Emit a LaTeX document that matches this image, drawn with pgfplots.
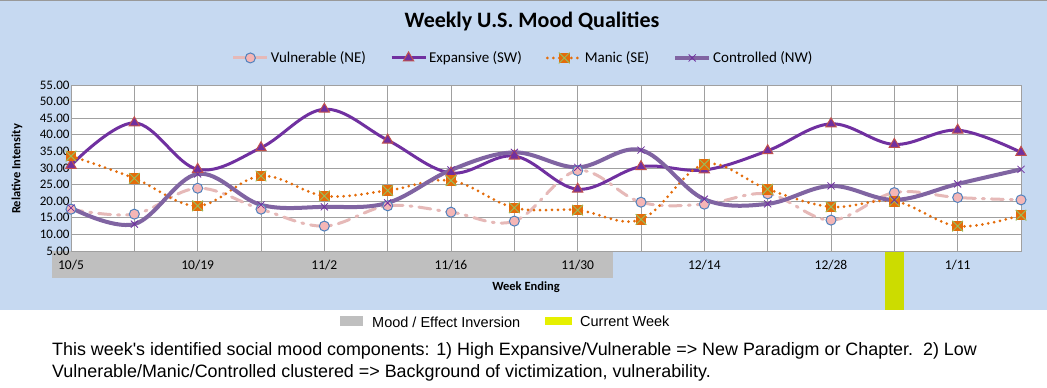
\documentclass[border=0pt]{standalone}
\usepackage{pgfplots}
\pgfplotsset{compat=1.18}
\usepackage{pgfplotstable}
\usepackage{fontspec}
\setmainfont{Carlito}
\newfontfamily\arialf{Liberation Sans}

\definecolor{bgblue}{HTML}{C6D9F1}
\definecolor{vulc}{HTML}{E6B9B8}
\definecolor{vulfill}{HTML}{F4B6B6}
\definecolor{vuledge}{HTML}{4F81BD}
\definecolor{expc}{HTML}{7030A0}
\definecolor{expedge}{HTML}{C0504D}
\definecolor{manc}{HTML}{E46C0A}
\definecolor{manx}{HTML}{9BBB59}
\definecolor{conc}{HTML}{8064A2}
\definecolor{conx}{HTML}{7030A0}
\definecolor{gridc}{HTML}{A0A0A0}
\definecolor{bandgray}{HTML}{BFBFBF}
\definecolor{curyel}{HTML}{CCDC00}
\definecolor{legyel}{HTML}{E6F000}

\pgfdeclareplotmark{sqx}{%
  \pgfpathrectangle{\pgfpoint{-\pgfplotmarksize}{-\pgfplotmarksize}}{\pgfpoint{2\pgfplotmarksize}{2\pgfplotmarksize}}%
  \pgfsetfillcolor{manc}\pgfusepathqfill
  \pgfsetstrokecolor{manx}\pgfsetlinewidth{1pt}%
  \pgfpathmoveto{\pgfpoint{-\pgfplotmarksize}{-\pgfplotmarksize}}%
  \pgfpathlineto{\pgfpoint{\pgfplotmarksize}{\pgfplotmarksize}}%
  \pgfpathmoveto{\pgfpoint{-\pgfplotmarksize}{\pgfplotmarksize}}%
  \pgfpathlineto{\pgfpoint{\pgfplotmarksize}{-\pgfplotmarksize}}%
  \pgfusepathqstroke}

\pgfplotstableread{
x vul exp man con
0 17.6 30.8 33.6 18.0
1 16.1 43.6 26.9 13.1
2 23.9 29.6 18.6 28.2
3 17.6 36.1 27.6 18.9
4 12.5 47.7 21.6 18.3
5 18.6 38.4 23.2 19.5
6 16.7 28.5 26.2 29.4
7 14.0 33.6 18.0 34.7
8 29.2 23.6 17.3 30.2
9 19.7 30.4 14.5 35.4
10 19.1 29.4 31.1 20.6
11 22.2 35.2 23.6 19.2
12 14.3 43.3 18.3 24.6
13 22.6 37.1 20.0 20.4
14 21.1 41.4 12.5 25.2
15 20.4 34.7 15.8 29.6
}\mood

\begin{document}
\begin{tikzpicture}[x=1pt,y=1pt]
\useasboundingbox (0,0) rectangle (1047,388);
\fill[white] (0,0) rectangle (1047,388);
\fill[bgblue] (0,78) rectangle (1047,388);
\draw[gray!80,line width=1pt] (0,387.5) -- (1047,387.5);
% inversion band and current week
\fill[bandgray] (52,110) rectangle (613,137);
\fill[curyel] (885,78) rectangle (904,137.5);

\begin{axis}[
  at={(71pt,137pt)}, anchor=south west,
  scale only axis, width=950pt, height=166pt,
  xmin=0, xmax=15, ymin=5, ymax=55,
  clip=false,
  axis background/.style={fill=white},
  axis line style={gridc},
  grid=major,
  major grid style={gridc, line width=0.8pt},
  major tick length=0pt,
  xtick={0,...,15},
  xticklabels={10/5,,10/19,,11/2,,11/16,,11/30,,12/14,,12/28,,1/11,},
  ytick={5,10,...,55},
  /pgf/number format/assume math mode=true,
  yticklabel style={/pgf/number format/fixed,/pgf/number format/precision=2,/pgf/number format/fixed zerofill,
     font=\fontsize{13}{15}\selectfont, xshift=2pt},
  xticklabel style={font=\fontsize{13.5}{16}\selectfont, yshift=-6pt},
  smooth, tension=0.6,
  legend style={at={(0.476,1.163)}, anchor=center, draw=none, fill=none,
     legend columns=4, font=\fontsize{15}{18}\selectfont,
     /tikz/every even column/.append style={column sep=22pt},
     legend cell align=left},
  legend image code/.code={\draw[mark repeat=2,mark phase=2] plot coordinates {(0pt,0pt) (17pt,0pt) (34pt,0pt)};},
]
\addlegendimage{vulc, line width=3pt, mark=*, mark size=5pt, mark options={solid, fill=vulfill, draw=vuledge, line width=1pt}}
\addlegendentry{Vulnerable (NE)}
\addlegendimage{expc, line width=3pt, mark=triangle*, mark size=6pt, mark options={fill=expc, draw=expedge, line width=1pt}}
\addlegendentry{Expansive (SW)}
\addlegendimage{manc, line width=3pt, line cap=round, dash pattern=on 0pt off 6pt, mark=sqx, mark size=5.3pt, mark options={solid}}
\addlegendentry{Manic (SE)}
\addlegendimage{conc, line width=4pt, mark=x, mark size=5pt, mark options={draw=conx, line width=0.8pt}}
\addlegendentry{Controlled (NW)}

% lines
\addplot[vulc, line width=3pt, line cap=round, dash pattern=on 12pt off 7pt on 2pt off 7pt, forget plot] table[x=x,y=vul] {\mood};
\addplot[expc, line width=3pt, forget plot] table[x=x,y=exp] {\mood};
\addplot[manc, line width=3pt, line cap=round, dash pattern=on 0pt off 6pt, forget plot] table[x=x,y=man] {\mood};
\addplot[conc, line width=4pt, forget plot] table[x=x,y=con] {\mood};
% markers
\addplot[only marks, mark=*, mark size=5pt, mark options={fill=vulfill, draw=vuledge, line width=1pt}, forget plot] table[x=x,y=vul] {\mood};
\addplot[only marks, mark=triangle*, mark size=6pt, mark options={fill=expc, draw=expedge, line width=1pt}, forget plot] table[x=x,y=exp] {\mood};
\addplot[only marks, mark=sqx, mark size=5.3pt, forget plot] table[x=x,y=man] {\mood};
\addplot[only marks, mark=x, mark size=5pt, mark options={draw=conx, line width=0.8pt}, forget plot] table[x=x,y=con] {\mood};
\end{axis}

\node[font=\fontsize{22}{26}\selectfont\bfseries] at (532,366) {Weekly U.S. Mood Qualities};
\node[font=\fontsize{12.5}{15}\selectfont\bfseries, rotate=90] at (17,219) {Relative Intensity};
\node[font=\fontsize{12.5}{15}\selectfont\bfseries] at (526,101) {Week Ending};

\fill[bandgray] (340,62) rectangle (363,72);
\node[anchor=west, inner sep=0pt, font=\arialf\fontsize{14.5}{17}\selectfont] at (372,66) {Mood / Effect Inversion};
\fill[legyel] (545,63) rectangle (572,71);
\node[anchor=west, inner sep=0pt, font=\arialf\fontsize{14.5}{17}\selectfont] at (580,67) {Current Week};

\node[anchor=west, inner sep=0pt, font=\arialf\fontsize{17.9}{20}\selectfont] at (52,37) {This week's identified social mood components: 1) High Expansive/Vulnerable => New Paradigm or Chapter.\ \ 2) Low};
\node[anchor=west, inner sep=0pt, font=\arialf\fontsize{17.9}{20}\selectfont] at (52,15) {Vulnerable/Manic/Controlled clustered => Background of victimization, vulnerability.};
\end{tikzpicture}
\end{document}
